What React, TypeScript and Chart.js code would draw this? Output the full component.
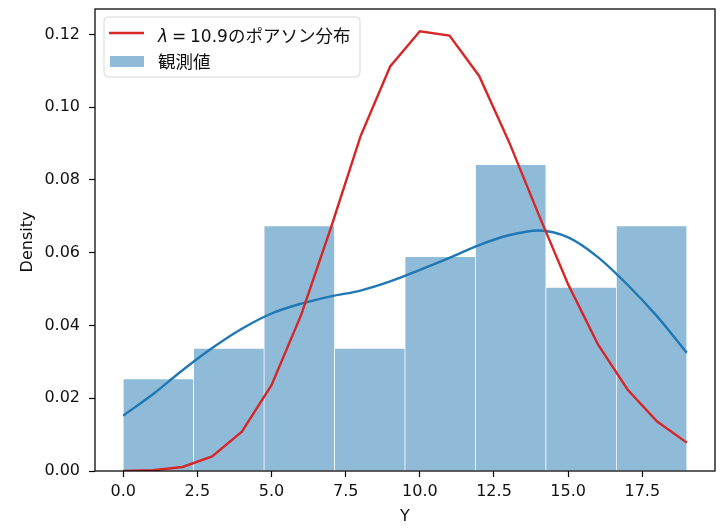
import { useEffect, useRef } from "react";
import { Chart, registerables } from "chart.js";

Chart.register(...registerables);

// histogram bins (centres) and observed density
const binCenters = [1.1875, 3.5625, 5.9375, 8.3125, 10.6875, 13.0625, 15.4375, 17.8125];
const observedDensity = [0.0253, 0.0337, 0.0674, 0.0337, 0.0589, 0.0842, 0.0505, 0.0674];

// Poisson pmf, lambda = 10.9
const poissonK = [0, 1, 2, 3, 4, 5, 6, 7, 8, 9, 10, 11, 12, 13, 14, 15, 16, 17, 18, 19];
const poissonP = [
  0.00002, 0.0002, 0.0011, 0.0040, 0.0108, 0.0236, 0.0429, 0.0668, 0.0920, 0.1112,
  0.1209, 0.1197, 0.1086, 0.0906, 0.0706, 0.0513, 0.0349, 0.0224, 0.0136, 0.0078,
];

// KDE curve of the observations
const kdeX = [0, 1, 2, 3, 4, 5, 6, 7, 8, 9, 10, 11, 12, 13, 14, 15, 16, 17, 18, 19];
const kdeY = [
  0.0152, 0.0211, 0.0277, 0.0338, 0.0391, 0.0433, 0.0460, 0.0480, 0.0496, 0.0521,
  0.0553, 0.0586, 0.0621, 0.0648, 0.0661, 0.0642, 0.0588, 0.0512, 0.0425, 0.0325,
];

const xTicks = [0, 2.5, 5, 7.5, 10, 12.5, 15, 17.5];
const yTicks = [0, 0.02, 0.04, 0.06, 0.08, 0.1, 0.12];

const poissonLabel = "のポアソン分布";
const observedLabel = "観測値";

const FONT = "'DejaVu Sans', 'Noto Sans CJK JP', sans-serif";
const CJK = "'Noto Sans CJK JP', sans-serif";
const RED = "#d62728";
const BLUE = "#1f77b4";
const BAR = "rgba(31,119,180,0.5)";

const framePlugin = {
  id: "frame",
  afterDatasetsDraw(chart: Chart) {
    const { ctx, chartArea: a } = chart;
    ctx.save();
    ctx.strokeStyle = "#000";
    ctx.lineWidth = 1.25;
    ctx.strokeRect(a.left, a.top, a.right - a.left, a.bottom - a.top);

    // axis titles
    ctx.fillStyle = "#111";
    ctx.font = `16px ${FONT}`;
    ctx.textAlign = "center";
    ctx.textBaseline = "middle";
    ctx.fillText("Y", (a.left + a.right) / 2, 517);
    ctx.save();
    ctx.translate(28, 242);
    ctx.rotate(-Math.PI / 2);
    ctx.fillText("Density", 0, 0);
    ctx.restore();

    // legend
    const lx = 104, ly = 17, lw = 256, lh = 60, r = 4;
    ctx.beginPath();
    ctx.moveTo(lx + r, ly);
    ctx.arcTo(lx + lw, ly, lx + lw, ly + lh, r);
    ctx.arcTo(lx + lw, ly + lh, lx, ly + lh, r);
    ctx.arcTo(lx, ly + lh, lx, ly, r);
    ctx.arcTo(lx, ly, lx + lw, ly, r);
    ctx.closePath();
    ctx.fillStyle = "rgba(255,255,255,0.8)";
    ctx.fill();
    ctx.strokeStyle = "#d6d6d6";
    ctx.lineWidth = 1;
    ctx.stroke();

    ctx.strokeStyle = RED;
    ctx.lineWidth = 2.4;
    ctx.beginPath();
    ctx.moveTo(109, 33);
    ctx.lineTo(144, 33);
    ctx.stroke();

    ctx.fillStyle = BAR;
    ctx.fillRect(110, 56, 34, 11);

    ctx.fillStyle = "#111";
    ctx.textAlign = "left";
    ctx.textBaseline = "alphabetic";
    ctx.font = `italic 17px ${FONT}`;
    ctx.fillText("λ", 158, 42);
    ctx.font = `17px ${FONT}`;
    ctx.fillText("=", 172, 42);
    ctx.fillText("10.9", 190, 42);
    ctx.font = `17.5px ${CJK}`;
    ctx.fillText(poissonLabel, 228, 42);
    ctx.fillText(observedLabel, 158, 68);
    ctx.restore();
  },
};

export default function App() {
  const canvasRef = useRef<HTMLCanvasElement>(null);
  const chartRef = useRef<Chart | null>(null);

  useEffect(() => {
    document.body.style.margin = "0";
    if (!canvasRef.current) return;

    chartRef.current?.destroy();
    chartRef.current = new Chart(canvasRef.current, {
      type: "bar",
      data: {
        datasets: [
          {
            type: "line",
            label: "poisson",
            data: poissonK.map((k, i) => ({ x: k, y: poissonP[i] })),
            borderColor: RED,
            borderWidth: 2.4,
            pointRadius: 0,
            tension: 0,
            order: 1,
          },
          {
            type: "line",
            label: "kde",
            data: kdeX.map((x, i) => ({ x, y: kdeY[i] })),
            borderColor: BLUE,
            borderWidth: 2.4,
            pointRadius: 0,
            cubicInterpolationMode: "monotone",
            order: 2,
          },
          {
            type: "bar",
            label: observedLabel,
            data: binCenters.map((x, i) => ({ x, y: observedDensity[i] })),
            backgroundColor: BAR,
            borderColor: "#fff",
            borderWidth: { left: 0.7, right: 0.7, top: 0.7, bottom: 0 },
            borderSkipped: false,
            barPercentage: 1,
            categoryPercentage: 1,
            order: 3,
          },
        ],
      } as any,
      options: {
        animation: false,
        responsive: true,
        maintainAspectRatio: false,
        layout: { padding: { top: 9, right: 12, left: 0, bottom: 0 } },
        plugins: { legend: { display: false }, tooltip: { enabled: false } },
        scales: {
          x: {
            type: "linear",
            min: -0.95,
            max: 19.95,
            offset: false,
            afterFit: (s: any) => { s.height = 60; s.paddingLeft = 0; s.paddingRight = 0; },
            afterBuildTicks: (s: any) => { s.ticks = xTicks.map((v) => ({ value: v })); },
            grid: { drawOnChartArea: false, drawTicks: true, tickLength: 6, tickColor: "#000", tickWidth: 1.2, offset: false },
            border: { display: false },
            ticks: {
              color: "#111",
              padding: 5,
              maxRotation: 0,
              font: { family: FONT, size: 16 },
              callback: (v: any) => Number(v).toFixed(1),
            },
          },
          y: {
            type: "linear",
            min: 0,
            max: 0.127,
            afterFit: (s: any) => { s.width = 95; s.paddingTop = 0; s.paddingBottom = 0; },
            afterBuildTicks: (s: any) => { s.ticks = yTicks.map((v) => ({ value: v })); },
            grid: { drawOnChartArea: false, drawTicks: true, tickLength: 6, tickColor: "#000", tickWidth: 1.2 },
            border: { display: false },
            ticks: {
              color: "#111",
              padding: 9,
              font: { family: FONT, size: 16 },
              callback: (v: any) => Number(v).toFixed(2),
            },
          },
        },
      },
      plugins: [framePlugin],
    });

    return () => { chartRef.current?.destroy(); };
  }, []);

  return (
    <div style={{ width: 727, height: 531, background: "#fff" }}>
      <canvas ref={canvasRef} />
    </div>
  );
}
